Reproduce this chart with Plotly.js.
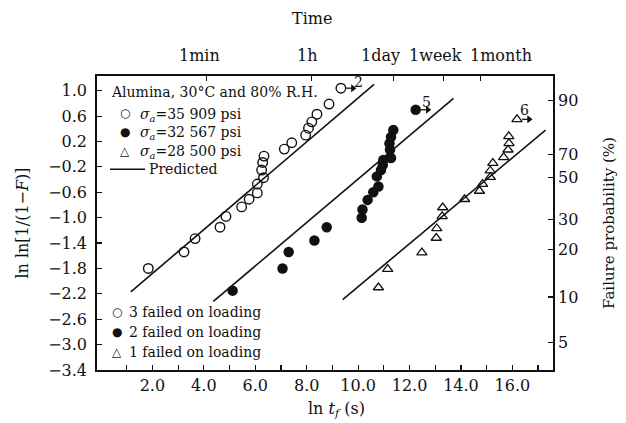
<!DOCTYPE html>
<html><head><meta charset="utf-8">
<script src="https://cdn.plot.ly/plotly-3.0.1.min.js"></script>
<style>html,body{margin:0;padding:0;background:#fff}</style>
</head><body><div id="chart" style="width:626px;height:423px"></div>
<script>
// sigma_a = 35 909 psi (open circles); last point = run-out (arrow "2")
const x35909 = [1.84, 3.23, 3.66, 4.63, 4.86, 5.47, 5.76, 6.08, 6.08, 6.32, 6.25, 6.29, 6.34, 7.13, 7.42, 7.96, 8.07, 8.20, 8.40, 8.87, 9.33];
const y35909 = [-1.80, -1.54, -1.33, -1.15, -0.98, -0.83, -0.71, -0.61, -0.47, -0.37, -0.25, -0.13, -0.03, 0.08, 0.18, 0.30, 0.41, 0.51, 0.63, 0.79, 1.04];
// sigma_a = 32 567 psi (filled circles); last point = run-out (arrow "5")
const x32567 = [5.12, 7.06, 7.30, 8.30, 8.78, 10.14, 10.17, 10.37, 10.59, 10.79, 10.73, 10.89, 10.96, 10.98, 11.28, 11.24, 11.22, 11.28, 11.37, 12.24];
const y32567 = [-2.15, -1.80, -1.54, -1.36, -1.15, -1.00, -0.87, -0.72, -0.60, -0.51, -0.35, -0.25, -0.17, -0.09, -0.06, 0.07, 0.17, 0.27, 0.38, 0.70];
// sigma_a = 28 500 psi (open triangles); last point = run-out (arrow "6")
const x28500 = [10.79, 11.15, 12.48, 13.04, 13.06, 13.27, 13.29, 14.14, 14.72, 14.84, 15.14, 15.14, 15.24, 15.66, 15.83, 15.87, 15.86, 16.18];
const y28500 = [-2.10, -1.81, -1.55, -1.32, -1.17, -0.98, -0.84, -0.71, -0.58, -0.47, -0.36, -0.26, -0.14, -0.05, 0.07, 0.17, 0.28, 0.55];
// predicted lines (end points)
const predX1 = [1.16, 10.62], predY1 = [-2.17, 1.10];
const predX2 = [4.37, 13.71], predY2 = [-2.32, 0.88];
const predX3 = [9.40, 17.29], predY3 = [-2.29, 0.38];
const runoutLabels = ["2", "5", "6"];
// axis ticks
const bottomTickVals = [2,4,6,8,10,12,14,16];
const bottomTickText = ["2.0","4.0","6.0","8.0","10.0","12.0","14.0","16.0"];
const bottomMinorVals = [1,3,5,7,9,11,13,15,17];
const leftTickVals = [1.0,0.6,0.2,-0.2,-0.6,-1.0,-1.4,-1.8,-2.2,-2.6,-3.0,-3.4];
const leftTickText = ["1.0","0.6","0.2","\u22120.2","\u22120.6","\u22121.0","\u22121.4","\u22121.8","\u22122.2","\u22122.6","\u22123.0","\u22123.4"];
const rightTickVals = [0.84, 0.0, -0.37, -1.03, -1.50, -2.25, -2.97];
const rightTickText = ["90","70","50","30","20","10","5"];
const timeLabels = ["1min","1h","1day","1week","1month"];
const timeSeconds = [60, 3600, 86400, 604800, 2592000];
const timeLabelPos = [3.85, 8.03, 10.88, 13.0, 15.54];

const FONT = "DejaVu Serif, Liberation Serif, serif";
const BLK = "#111";

function last(a){return a[a.length-1];}

const traces = [
  {x: predX1, y: predY1, mode:'lines', line:{color:BLK, width:1.6}, showlegend:false, hoverinfo:'skip'},
  {x: predX2, y: predY2, mode:'lines', line:{color:BLK, width:1.6}, showlegend:false, hoverinfo:'skip'},
  {x: predX3, y: predY3, mode:'lines', line:{color:BLK, width:1.6}, showlegend:false, hoverinfo:'skip'},
  {x: x35909, y: y35909, mode:'markers', name:'σa=35 909 psi',
   marker:{symbol:'circle-open', size:9.5, color:BLK, line:{width:1.4, color:BLK}}, showlegend:false},
  {x: x32567, y: y32567, mode:'markers', name:'σa=32 567 psi',
   marker:{symbol:'circle', size:10.5, color:BLK}, showlegend:false},
  {x: x28500, y: y28500, mode:'markers', name:'σa=28 500 psi',
   marker:{symbol:'triangle-up-open', size:9, color:BLK, line:{width:1.3, color:BLK}}, showlegend:false},
  {x:[null], y:[null], yaxis:'y2', showlegend:false, mode:'markers'},
  {x:[null], y:[null], xaxis:'x2', showlegend:false, mode:'markers'}
];

// run-out arrows (from the last point of each series, pointing right)
const runX = [last(x35909), last(x32567), last(x28500)];
const runY = [last(y35909), last(y32567), last(y28500)];
runX.forEach((xv,i)=>{
  traces.push({x:[xv + 0.2, xv + 0.45], y:[runY[i], runY[i]], mode:'lines', showlegend:false,
    hoverinfo:'skip', line:{color:BLK, width:1.3}});
  traces.push({x:[xv + 0.47], y:[runY[i]], mode:'markers', showlegend:false, hoverinfo:'skip',
    marker:{symbol:'triangle-right', size:7, color:BLK, line:{width:0}}});
});

// helpers to convert pixel positions to paper coords
const L=97, R=553, T=76, B=370;
const px = v => (v - L)/(R - L);
const py = v => (B - v)/(B - T);

const ann = [];
function txt(text, x, y, opts){
  ann.push(Object.assign({text:text, xref:'paper', yref:'paper', x:px(x), y:py(y),
    xanchor:'center', yanchor:'middle', showarrow:false, font:{family:FONT, size:16, color:BLK}}, opts||{}));
}
// titles
txt('Time', 312, 18);
txt('ln <i>t<sub>f</sub></i> (s)', 336, 409);
// top time labels
timeLabels.forEach((t,i)=>ann.push({text:t, xref:'x', yref:'paper', x:timeLabelPos[i], y:py(56),
  xanchor:'center', yanchor:'middle', showarrow:false, font:{family:FONT, size:16, color:BLK}}));
// legend-like text
const lf = {family:FONT, size:14, color:BLK};
const gf = {family:"DejaVu Sans, sans-serif", size:12, color:BLK};
txt('Alumina, 30°C and 80% R.H.', 109, 91.7, {xanchor:'left', font:lf});
const legRows = [
  {g:'○', t:'<i>σ<sub>a</sub></i>=35 909 psi', y:113.3},
  {g:'●', t:'<i>σ<sub>a</sub></i>=32 567 psi', y:131.7},
  {g:'△', t:'<i>σ<sub>a</sub></i>=28 500 psi', y:150.7}
];
legRows.forEach(r=>{
  txt(r.g, 125, r.y, {font:gf});
  txt(r.t, 138, r.y + 1.5, {xanchor:'left', font:lf});
});
txt('Predicted', 147, 169.3, {xanchor:'left', font:lf});
const failRows = [
  {g:'○', t:'3 failed on loading', y:312},
  {g:'●', t:'2 failed on loading', y:332},
  {g:'△', t:'1 failed on loading', y:351.5}
];
failRows.forEach(r=>{
  txt(r.g, 117, r.y, {font:gf});
  txt(r.t, 127, r.y, {xanchor:'left', font:lf});
});
// run-out labels
const labDx = [0.69, 0.43, 0.30], labDy = [0.105, 0.12, 0.15];
runX.forEach((xv,i)=>{
  ann.push({x: xv + labDx[i], y: runY[i] + labDy[i], xref:'x', yref:'y', text: runoutLabels[i], showarrow:false,
            xanchor:'center', yanchor:'middle', font:{family:FONT, size:14, color:BLK}});
});

const layout = {
  width:626, height:423,
  margin:{l:L, r:626-R, t:T, b:423-B, pad:0},
  paper_bgcolor:'#fff', plot_bgcolor:'#fff',
  showlegend:false,
  font:{family:FONT, color:BLK, size:16},
  xaxis:{range:[-0.155, 17.58], tickmode:'array', tickvals:bottomTickVals, ticktext:bottomTickText,
         ticks:'inside', ticklen:5, tickwidth:1.2, tickcolor:BLK, showgrid:false, zeroline:false,
         minor:{tickmode:'array', tickvals:bottomMinorVals, ticks:'inside', ticklen:5, tickwidth:1.2, tickcolor:BLK, showgrid:false},
         showline:true, linecolor:BLK, linewidth:1.8, mirror:true,
         tickfont:{family:FONT, size:16, color:BLK}},
  xaxis2:{range:[-0.155, 17.58], overlaying:'x', side:'top', tickvals:timeSeconds.map(Math.log),
          showticklabels:false, ticks:'inside', ticklen:5, tickwidth:1.2, tickcolor:BLK,
          showgrid:false, zeroline:false, showline:false},
  yaxis:{range:[-3.4, 1.232], tickvals:leftTickVals, ticktext:leftTickText,
         ticks:'inside', ticklen:5, tickwidth:1.2, tickcolor:BLK, showgrid:false, zeroline:false,
         showline:true, linecolor:BLK, linewidth:1.8, mirror:true, ticklabelstandoff:5,
         tickfont:{family:FONT, size:16, color:BLK},
         title:{text:'ln ln[1/(1\u2212<i>F</i>)]', font:{family:FONT, size:16, color:BLK}, standoff:15}},
  yaxis2:{range:[-3.4, 1.232], overlaying:'y', side:'right', tickvals:rightTickVals, ticktext:rightTickText,
          ticks:'inside', ticklen:5, tickwidth:1.2, tickcolor:BLK, showgrid:false, zeroline:false,
          showline:false, ticklabelstandoff:4, tickfont:{family:FONT, size:16, color:BLK},
          title:{text:'Failure probability (%)', font:{family:FONT, size:15, color:BLK}, standoff:26}},
  shapes:[{type:'line', xref:'paper', yref:'paper', x0:px(110), x1:px(145), y0:py(169.3), y1:py(169.3),
           line:{color:BLK, width:1.6}}],
  annotations: ann
};
Plotly.newPlot('chart', traces, layout, {staticPlot:true, displayModeBar:false});
</script></body></html>
